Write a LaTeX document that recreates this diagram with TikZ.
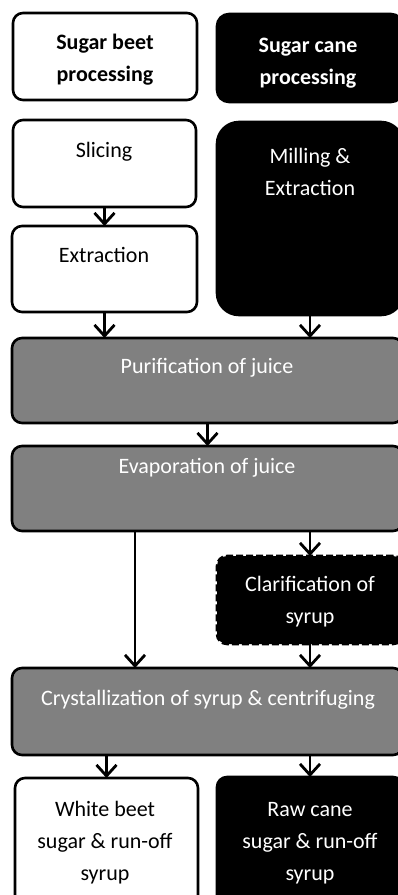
\documentclass[tikz,border=0pt]{standalone}
\usepackage{fontspec}
\setmainfont{Carlito}
\usetikzlibrary{arrows.meta}
\definecolor{boxgray}{RGB}{128,128,128}
\begin{document}
\begin{tikzpicture}[x=1pt,y=-1pt,
  box/.style={draw=black, line width=2.6pt, rounded corners=10pt, inner sep=0pt, outer sep=0pt, anchor=north west},
  whitebox/.style={box, fill=white},
  blackbox/.style={box, fill=black},
  graybox/.style={box, fill=boxgray},
  dashbox/.style={box, fill=black, dash pattern=on 7pt off 3pt},
  txt/.style={font=\fontsize{22}{32}\selectfont, align=center, inner sep=0pt, anchor=base},
  wtxt/.style={txt, text=white},
  arr/.style={line width=2.8pt, -{Straight Barb[length=11pt,width=20pt]}}
]
\useasboundingbox (0,0) rectangle (398,895);
\clip (0,0) rectangle (398,895);
\fill[white] (0,0) rectangle (398,895);

\node[whitebox, minimum width=184pt, minimum height=87pt] (beet) at (13,13) {};
\node[blackbox, minimum width=186pt, minimum height=88pt, rounded corners=12pt] (cane) at (217,14) {};
\node[whitebox, minimum width=183pt, minimum height=87pt] (slicing) at (13,120) {};
\node[blackbox, minimum width=186pt, minimum height=193pt, rounded corners=22pt] (milling) at (217,122) {};
\node[whitebox, minimum width=185pt, minimum height=86pt] (extraction) at (12,226) {};
\node[graybox, minimum width=391pt, minimum height=85pt] (purif) at (12,338) {};
\node[graybox, minimum width=391pt, minimum height=85pt] (evap) at (12,446) {};
\node[dashbox, minimum width=186pt, minimum height=88pt] (clar) at (217,556) {};
\node[graybox, minimum width=391pt, minimum height=87pt] (cryst) at (12,668) {};
\node[whitebox, minimum width=183pt, minimum height=130pt] (white) at (15,778) {};
\node[blackbox, minimum width=186pt, minimum height=130pt] (raw) at (217,777) {};

\node[txt] (tbeet) at (105,81) {\bfseries Sugar beet\\\bfseries processing};
\node[wtxt] (tcane) at (308,84) {\bfseries Sugar cane\\\bfseries processing};
\node[txt] (tslicing) at (104,157) {Slicing};
\node[wtxt] (tmilling) at (310,195) {Milling \&\\Extraction};
\node[txt] (textraction) at (104,262) {Extraction};
\node[wtxt] (tpurif) at (207,373) {Purification of juice};
\node[wtxt] (tevap) at (207,473) {Evaporation of juice};
\node[wtxt] (tclar) at (310,623) {Clarification of\\syrup};
\node[wtxt] (tcryst) at (208,705) {Crystallization of syrup \& centrifuging};
\node[txt] (twhite) at (105,880) {White beet\\sugar \& run-off\\syrup};
\node[wtxt] (traw) at (310,880) {Raw cane\\sugar \& run-off\\syrup};

\coordinate (lx) at (135,0);
\draw[arr] (slicing.south) -- (extraction.north);
\draw[arr] (extraction.south) -- (extraction.south |- purif.north);
\draw[arr] (milling.south) -- (milling.south |- purif.north);
\draw[arr] (purif.south) -- (evap.north);
\draw[arr] (clar.north |- evap.south) -- (clar.north);
\draw[arr] (evap.south -| lx) -- (cryst.north -| lx);
\draw[arr] (clar.south) -- (clar.south |- cryst.north);
\draw[arr] (white.north |- cryst.south) -- (white.north);
\draw[arr] (raw.north |- cryst.south) -- (raw.north);
\end{tikzpicture}
\end{document}
